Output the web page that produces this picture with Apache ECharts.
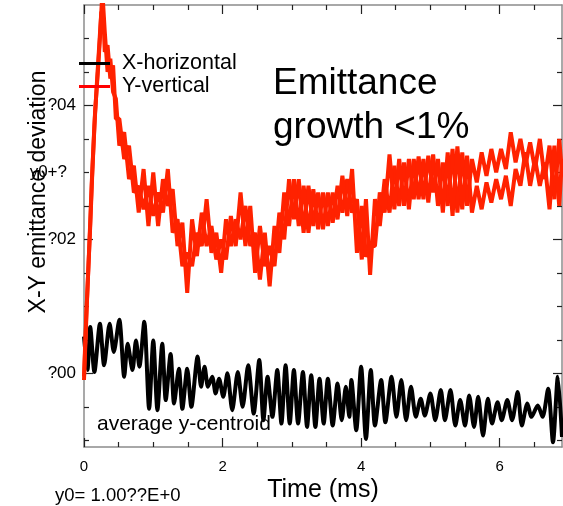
<!DOCTYPE html>
<html>
<head>
<meta charset="utf-8">
<script src="https://cdn.jsdelivr.net/npm/echarts@6/dist/echarts.min.js"></script>
<style>html,body{margin:0;padding:0;background:#fff}#c{width:563px;height:506px}</style>
</head>
<body>
<div id="c"></div>
<script>
// ---- data ----
const xTickValues = [0, 2, 4, 6];
const xTickLabels = ['0', '2', '4', '6'];
const xMinorTicks = [0.5, 1, 1.5, 2.5, 3, 3.5, 4.5, 5, 5.5, 6.5];
const yTickValues = [0, 2, 3, 4];
const yTickLabels = ['?00', '?02', 'y0+?', '?04'];
const yMajorTicks = [0, 2, 4];
const yMinorTicks = [-1, -0.5, 0.5, 1, 1.5, 2.5, 3, 3.5, 4.5, 5];
const legendNames = ['X-horizontal', 'Y-vertical'];

// emittance, trace 1 (time ms, deviation)
const emitA = [[0,-0.05],[0.03,0.8],[0.06,1.5],[0.09,2.2],[0.12,3.0],[0.16,3.9],[0.20,4.5],[0.23,5.0],[0.265,5.7],
[0.30,5.1],[0.34,4.5],[0.38,4.7],[0.42,4.2],[0.46,4.1],[0.51,3.4],[0.58,3.6],[0.65,2.9],[0.72,3.1],[0.79,2.4],
[0.86,3.05],[0.93,2.2],[1.00,3.0],[1.07,2.2],[1.14,2.9],[1.21,2.5],[1.28,2.75],[1.35,1.9],[1.42,2.25],[1.49,1.2],
[1.56,2.3],[1.63,1.75],[1.70,2.4],[1.77,1.9],[1.84,2.2],[1.91,1.7],[1.98,2.0],[2.05,1.7],[2.12,2.35],[2.19,1.9],
[2.26,2.7],[2.33,1.9],[2.40,2.5],[2.47,1.5],[2.54,2.2],[2.61,1.6],[2.68,1.9],[2.75,1.6],[2.82,2.4],[2.89,2.0],
[2.96,2.9],[3.03,2.3],[3.10,2.9],[3.17,2.1],[3.24,2.8],[3.31,2.2],[3.38,2.7],[3.45,2.15],[3.52,2.7],[3.59,2.25],
[3.66,2.8],[3.73,2.4],[3.80,2.9],[3.87,2.4],[3.94,2.6],[4.01,1.7],[4.07,2.6],[4.13,1.47],[4.20,2.6],[4.27,2.2],
[4.34,2.9],[4.41,2.4],[4.48,3.1],[4.55,2.5],[4.62,3.15],[4.69,2.45],[4.76,3.2],[4.83,2.6],[4.90,3.2],[4.97,2.55],
[5.04,3.27],[5.11,2.5],[5.18,3.15],[5.25,2.5],[5.32,3.35],[5.39,2.4],[5.46,3.3],[5.53,2.5],[5.60,3.2],[5.67,2.85],
[5.74,3.3],[5.81,2.95],[5.88,3.35],[5.95,3.0],[6.02,3.35],[6.09,3.05],[6.16,3.6],[6.23,3.15],[6.30,3.5],[6.37,3.1],
[6.44,3.45],[6.51,3.05],[6.58,3.5],[6.65,2.9],[6.72,3.4],[6.79,2.6],[6.86,3.5],[6.90,3.0]];

// emittance, trace 2
const emitB = [[0,-0.1],[0.04,1.0],[0.08,2.0],[0.11,2.8],[0.15,3.7],[0.19,4.4],[0.22,4.9],[0.25,5.4],[0.28,5.3],
[0.30,4.8],[0.34,4.9],[0.38,4.4],[0.42,4.6],[0.46,3.8],[0.51,3.8],[0.58,3.2],[0.65,3.4],[0.72,2.7],[0.79,2.8],
[0.86,2.45],[0.93,2.8],[1.00,2.35],[1.07,2.7],[1.14,2.4],[1.21,3.05],[1.28,2.1],[1.35,2.3],[1.42,1.6],[1.49,1.8],
[1.56,1.6],[1.63,2.1],[1.70,1.9],[1.77,2.6],[1.84,1.8],[1.91,2.1],[1.98,1.5],[2.05,2.3],[2.12,1.9],[2.19,2.3],
[2.26,2.0],[2.33,2.5],[2.40,1.9],[2.47,2.1],[2.54,1.4],[2.61,2.1],[2.68,1.3],[2.75,2.2],[2.82,1.8],[2.89,2.7],
[2.96,2.2],[3.03,2.9],[3.10,2.2],[3.17,2.8],[3.24,2.1],[3.31,2.75],[3.38,2.15],[3.45,2.7],[3.52,2.2],[3.59,2.7],
[3.66,2.3],[3.73,2.95],[3.80,2.35],[3.87,3.05],[3.94,1.8],[4.01,2.5],[4.07,1.74],[4.13,1.9],[4.20,1.9],[4.27,2.7],
[4.34,2.4],[4.41,3.27],[4.48,2.45],[4.55,3.2],[4.62,2.5],[4.69,3.2],[4.76,2.6],[4.83,3.24],[4.90,2.6],[4.97,3.25],
[5.04,2.7],[5.11,3.2],[5.18,2.4],[5.25,3.3],[5.32,2.35],[5.39,3.39],[5.46,2.45],[5.53,3.25],[5.60,2.4],[5.67,2.8],
[5.74,2.45],[5.81,2.85],[5.88,2.55],[5.95,2.9],[6.02,2.6],[6.09,2.95],[6.16,2.5],[6.23,3.05],[6.30,2.8],[6.37,3.3],
[6.44,2.8],[6.51,3.2],[6.58,2.8],[6.65,3.15],[6.72,2.45],[6.79,3.4],[6.86,2.5],[6.90,3.2]];

// average y-centroid
const centroid = [[0,0.55],[0.05,0.05],[0.09,0.69],[0.15,0.02],[0.23,0.74],[0.29,0.12],[0.37,0.74],[0.43,0.32],
[0.51,0.80],[0.58,-0.05],[0.63,0.44],[0.70,0.05],[0.75,0.49],[0.80,0.10],[0.87,0.77],[0.94,-0.53],[1.00,0.49],
[1.06,-0.55],[1.13,0.44],[1.18,-0.40],[1.25,0.29],[1.30,-0.45],[1.37,0.07],[1.42,-0.53],[1.49,0.07],[1.55,-0.50],
[1.64,0.25],[1.69,-0.20],[1.74,0.10],[1.79,-0.20],[1.85,-0.05],[1.90,-0.30],[1.95,-0.08],[2.01,-0.35],[2.07,0.0],
[2.14,-0.55],[2.22,0.02],[2.29,-0.50],[2.37,0.12],[2.45,-0.60],[2.53,0.20],[2.59,-0.70],[2.65,-0.05],[2.72,-0.65],
[2.79,0.05],[2.85,-0.75],[2.91,0.12],[2.97,-0.75],[3.03,0.05],[3.09,-0.75],[3.16,0.02],[3.22,-0.80],[3.28,-0.03],
[3.34,-0.80],[3.40,-0.08],[3.46,-0.75],[3.52,-0.08],[3.59,-0.78],[3.66,-0.15],[3.72,-0.70],[3.78,-0.20],[3.83,-0.65],
[3.86,-0.10],[3.93,-0.85],[4.00,0.10],[4.07,-0.98],[4.14,0.05],[4.20,-0.78],[4.29,-0.10],[4.35,-0.73],[4.44,-0.05],
[4.51,-0.65],[4.58,-0.10],[4.65,-0.70],[4.72,-0.20],[4.79,-0.65],[4.86,-0.38],[4.92,-0.63],[5.00,-0.30],[5.07,-0.70],
[5.15,-0.25],[5.21,-0.70],[5.29,-0.25],[5.36,-0.78],[5.43,-0.40],[5.50,-0.78],[5.56,-0.33],[5.63,-0.80],[5.69,-0.35],
[5.76,-0.93],[5.83,-0.38],[5.89,-0.75],[5.97,-0.43],[6.03,-0.70],[6.11,-0.40],[6.18,-0.70],[6.26,-0.28],[6.32,-0.78],
[6.40,-0.45],[6.46,-0.65],[6.55,-0.48],[6.62,-0.65],[6.70,-0.23],[6.77,-1.03],[6.84,-0.05],[6.90,-0.95]];

// ---- chart ----
const FONT = 'Liberation Sans, Arial, sans-serif';
const RED = '#ff2200';
const FRAME = '#8c8c8c';

function xAx(pos, ticks, len, line, labels) {
  return {
    type: 'value', position: pos, min: 0, max: 6.9,
    axisLine: { show: line, onZero: false, lineStyle: { color: FRAME, width: 1.5 } },
    axisTick: { show: true, inside: true, length: len, customValues: ticks, lineStyle: { color: '#222', width: 1.2 } },
    axisLabel: labels ? { show: true, customValues: xTickValues, margin: 12, color: '#000', fontSize: 15, fontFamily: FONT,
      formatter: v => xTickLabels[xTickValues.indexOf(v)] } : { show: false },
    splitLine: { show: false },
    name: labels ? 'Time (ms)' : '', nameLocation: 'middle', nameGap: 31, nameMoveOverlap: false,
    nameTextStyle: { fontSize: 25, color: '#000', fontFamily: FONT }
  };
}
function yAx(pos, ticks, len, line, labels) {
  return {
    type: 'value', position: pos, min: -1.1, max: 5.5,
    axisLine: { show: line, onZero: false, lineStyle: { color: FRAME, width: 1.5 } },
    axisTick: { show: true, inside: true, length: len, customValues: ticks, lineStyle: { color: '#222', width: 1.2 } },
    axisLabel: labels ? { show: true, customValues: yTickValues, margin: 8, color: '#000', fontSize: 17, fontFamily: FONT,
      formatter: v => { const s = yTickLabels[yTickValues.indexOf(v)]; return v === 3 ? '{s|' + s + '}' : s; },
      rich: { s: { fontSize: 17, fontFamily: FONT, color: '#000', padding: [0, 9, 0, 0] } } } : { show: false },
    splitLine: { show: false },
    name: labels ? 'X-Y emittance deviation' : '', nameLocation: 'middle', nameGap: 34, nameRotate: 90, nameMoveOverlap: false,
    nameTextStyle: { fontSize: 23, color: '#000', fontFamily: FONT, padding: [0, 0, 0, 68] }
  };
}

const chart = echarts.init(document.getElementById('c'), null, { renderer: 'canvas' });
chart.setOption({
  animation: false,
  backgroundColor: '#fff',
  grid: { left: 84, right: 1, top: 5, bottom: 59, containLabel: false, outerBoundsMode: 'none' },
  xAxis: [
    xAx('bottom', xTickValues, 9, true, true),
    xAx('bottom', xMinorTicks, 5, false, false),
    xAx('top', xTickValues, 9, true, false),
    xAx('top', xMinorTicks, 5, false, false)
  ],
  yAxis: [
    yAx('left', yMajorTicks, 9, true, true),
    yAx('left', yMinorTicks, 5, false, false),
    yAx('right', yMajorTicks, 9, true, false),
    yAx('right', yMinorTicks, 5, false, false)
  ],
  legend: {
    orient: 'vertical', left: 79, top: 52, padding: 0, itemWidth: 31, itemHeight: 3, itemGap: 0, icon: 'rect',
    selectedMode: false,
    textStyle: { fontSize: 21.5, lineHeight: 23, color: '#000', fontFamily: FONT, padding: [0, 0, 0, 7] },
    data: [
      { name: legendNames[0], itemStyle: { color: '#000' } },
      { name: legendNames[1], itemStyle: { color: '#ff0000' } }
    ]
  },
  series: [
    { name: 'average y-centroid', type: 'line', data: centroid, showSymbol: false, symbol: 'none', smooth: 0.25,
      lineStyle: { color: '#000', width: 4 }, itemStyle: { color: '#000' } },
    { name: legendNames[0], type: 'line', data: emitA, showSymbol: false, symbol: 'none',
      lineStyle: { color: RED, width: 4 }, itemStyle: { color: RED } },
    { name: legendNames[1], type: 'line', data: emitB, showSymbol: false, symbol: 'none',
      lineStyle: { color: RED, width: 4 }, itemStyle: { color: RED } }
  ],
  graphic: [
    { type: 'text', left: 273, top: 65, style: { text: 'Emittance', font: '37px ' + FONT, fill: '#000' } },
    { type: 'text', left: 273, top: 109, style: { text: 'growth <1%', font: '37px ' + FONT, fill: '#000' } },
    { type: 'text', left: 97, top: 414, style: { text: 'average y-centroid', font: '21px ' + FONT, fill: '#000' } },
    { type: 'text', left: 55, top: 486, style: { text: 'y0= 1.00??E+0', font: '18.5px ' + FONT, fill: '#000' } }
  ]
});
</script>
</body>
</html>
